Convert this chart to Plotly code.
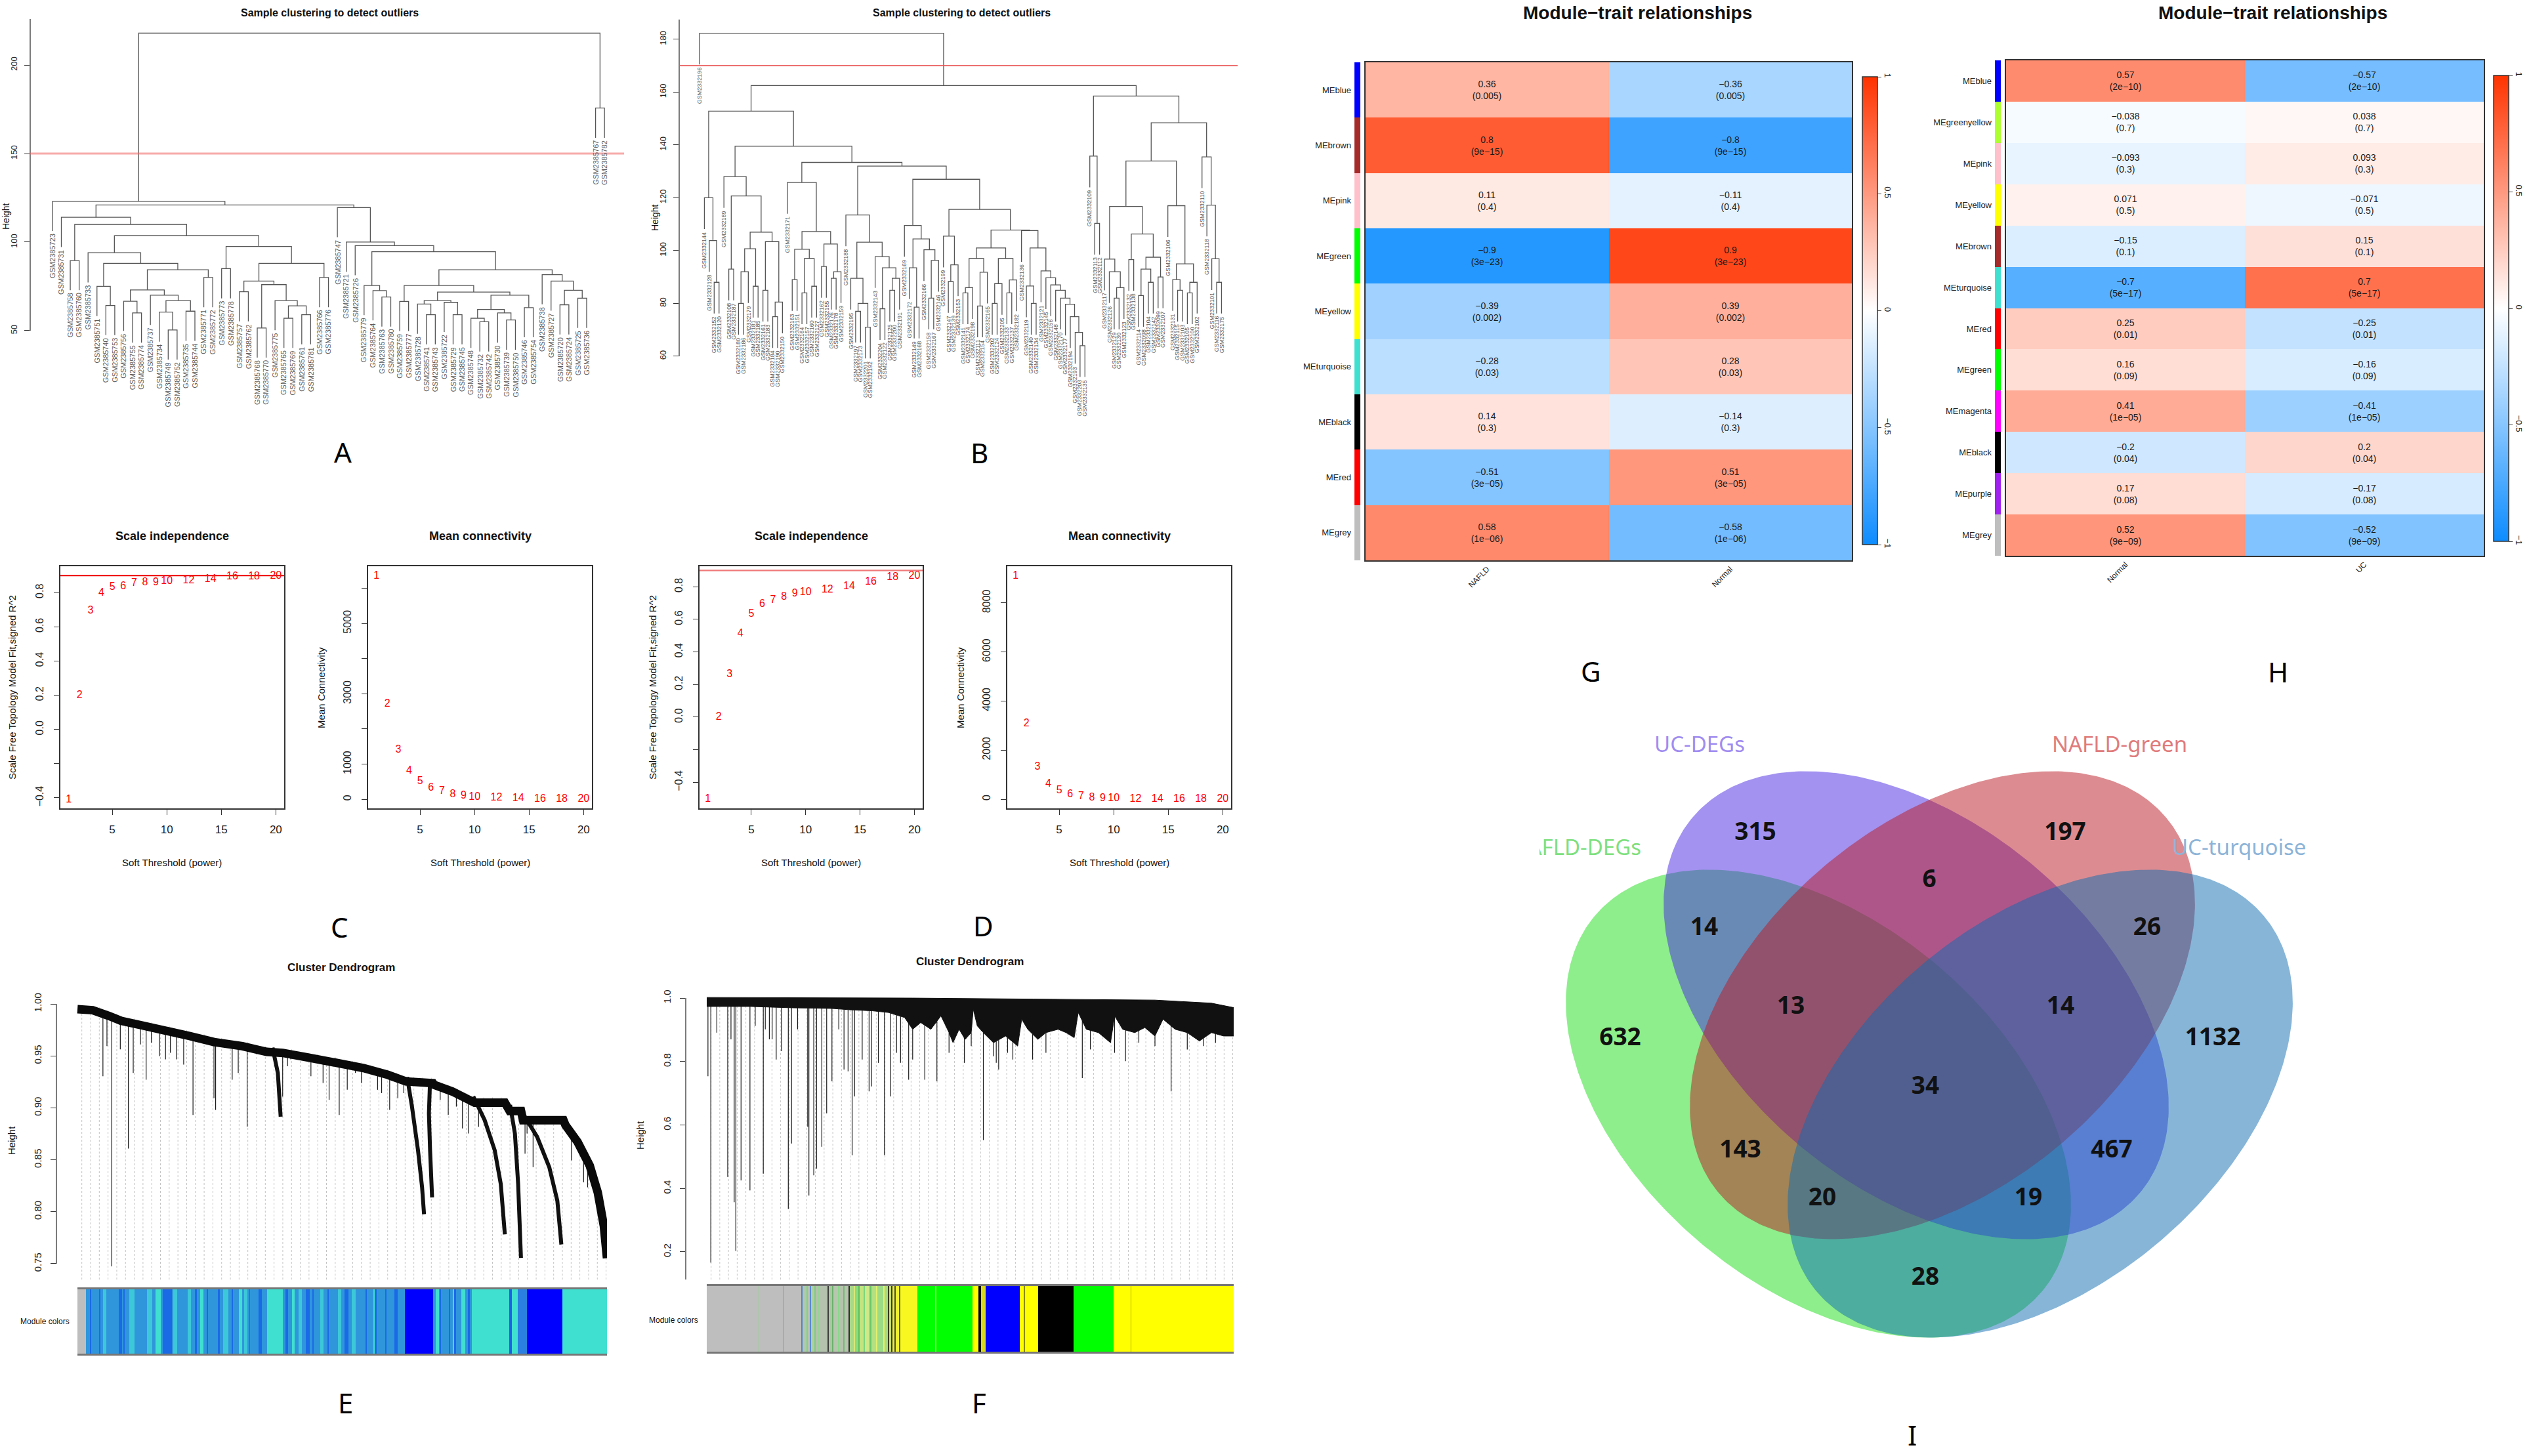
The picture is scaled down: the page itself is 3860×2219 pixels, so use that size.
import numpy as np
import plotly.graph_objects as go

W, H = 3860, 2219
SANS = "Liberation Sans, Arial, Helvetica, sans-serif"
LETTER = "Noto Sans, Open Sans, sans-serif"

# ---------------- A: sample tree, NAFLD set ----------------
A_PREFIX = "GSM2385"
A_LEAVES = ["723", "731", "758", "760", "733", "751", "740", "753", "756", "755",
            "774", "737", "734", "749", "752", "735", "744", "771", "772", "773",
            "778", "757", "762", "768", "770", "775", "765", "769", "761", "781",
            "766", "776", "747", "721", "726", "779", "764", "763", "780", "759",
            "777", "728", "741", "743", "722", "729", "745", "748", "732", "742",
            "730", "739", "750", "746", "754", "738", "727", "720", "724", "725",
            "736", "767", "782"]
# merge table: (node, left, right, height); ints are leaf positions
A_MERGES = [
    ("a1", 13, 14, 50.4), ("a2", 12, "a1", 60.5), ("a3", 15, 16, 61.0),
    ("a4", "a2", "a3", 67.0), ("a5", 11, "a4", 70.0), ("a6", 9, 10, 60.0),
    ("a7", 8, "a6", 66.6), ("a8", "a7", "a5", 73.0), ("a9", 17, 18, 80.0),
    ("a10", "a8", "a9", 84.4), ("a11", 6, 7, 64.2), ("a12", 5, "a11", 75.0),
    ("a13", "a12", "a10", 88.0), ("a14", 4, "a13", 94.0), ("a15", 26, 27, 57.0),
    ("a16", 28, 29, 59.0), ("a17", "a15", "a16", 64.0), ("a18", 25, "a17", 67.0),
    ("a19", 23, 24, 51.5), ("a20", "a19", "a18", 76.0), ("a21", 21, 22, 72.0),
    ("a22", "a21", "a20", 78.0), ("a23", 30, 31, 80.0), ("a24", "a22", "a23", 88.0),
    ("a25", 19, 20, 85.0), ("a26", "a25", "a24", 97.5), ("a27", "a14", "a26", 103.6),
    ("a28", 2, 3, 89.6), ("a29", "a28", "a27", 110.0), ("a30", 1, "a29", 114.0),
    ("b1", 57, 58, 64.6), ("b2", 59, 60, 68.3), ("b3", "b1", "b2", 72.8),
    ("b4", 56, "b3", 78.0), ("b5", 55, "b4", 81.6), ("b6", 51, 52, 56.0),
    ("b7", 50, "b6", 60.0), ("b8", 48, 49, 55.0), ("b9", 47, "b8", 57.0),
    ("b10", "b9", "b7", 62.0), ("b11", 53, 54, 63.0), ("b12", "b10", "b11", 70.0),
    ("b13", 45, 46, 59.0), ("b14", 44, "b13", 66.0), ("b15", 42, 43, 59.0),
    ("b16", 41, "b15", 65.0), ("b17", "b16", "b14", 67.0), ("b18", "b17", "b12", 71.8),
    ("b19", 39, 40, 66.5), ("b20", "b19", "b18", 75.5), ("b21", "b20", "b5", 84.4),
    ("b22", 37, 38, 69.0), ("b23", 36, "b22", 72.6), ("b24", 35, "b23", 75.5),
    ("b25", "b24", "b21", 94.6), ("b26", 34, "b25", 98.0), ("b27", 33, "b26", 100.0),
    ("b28", 32, "b27", 119.5), ("c1", "a30", "b28", 121.0), ("c2", 0, "c1", 123.0),
    ("c3", 61, 62, 175.7), ("c4", "c2", "c3", 218.0),
]
A_CUT = 150

# ---------------- B: sample tree, UC set ----------------
B_PREFIX = "GSM2332"
B_LEAVES = ["196", "144", "128", "152", "120", "189", "108", "187", "180", "186",
            "179", "181", "185", "161", "183", "184", "190", "150", "171", "163",
            "151", "164", "157", "160", "127", "162", "155", "176", "178", "159",
            "188", "195", "197", "173", "201", "192", "143", "204", "122", "125",
            "200", "191", "169", "172", "149", "168", "166", "158", "167", "146",
            "199", "147", "139", "153", "141", "174", "198", "111", "154", "165",
            "202", "124", "205", "133", "137", "182", "136", "119", "140", "134",
            "121", "145", "156", "148", "170", "177", "194", "193", "203", "135",
            "109", "113", "112", "117", "126", "129", "130", "123", "132", "138",
            "114", "098", "104", "142", "099", "107", "106", "131", "115", "103",
            "105", "100", "102", "110", "118", "101", "116", "175"]
B_MERGES = [
    ("g1", 3, 4, 88.0), ("g2", 2, "g1", 103.8), ("g3", 1, "g2", 120.0),
    ("h1", 6, 7, 93.0), ("h2", 8, 9, 80.0), ("h3", "h2", 10, 92.0),
    ("h4", 11, 12, 86.5), ("h5", "h3", "h4", 100.7), ("h6", 13, 14, 85.0),
    ("h7", 15, 16, 75.0), ("h8", "h7", 17, 80.5), ("h9", "h6", "h8", 103.4),
    ("h10", "h5", "h9", 107.0), ("h11", "h1", "h10", 120.7), ("h12", 5, "h11", 128.0),
    ("i1", 19, 20, 89.0), ("i2", 21, 22, 84.0), ("i3", 23, 24, 86.5),
    ("i4", "i2", "i3", 97.0), ("i5", "i1", "i4", 100.5), ("i6", 25, 26, 94.0),
    ("i7", 27, 28, 89.5), ("i8", "i7", 29, 92.0), ("i9", "i6", "i8", 102.5),
    ("i10", "i5", "i9", 107.2), ("i11", 18, "i10", 125.8),
    ("j1", 32, 33, 77.0), ("j2", 34, 35, 71.0), ("j3", "j1", "j2", 80.0),
    ("j4", 31, "j3", 89.5), ("j5", 37, 38, 78.0), ("j6", 39, 40, 85.0),
    ("j7", "j6", 41, 89.5), ("j8", "j5", "j7", 93.5), ("j9", 36, "j8", 97.7),
    ("j10", "j4", "j9", 103.2), ("j11", 30, "j10", 113.5),
    ("k1", 44, 45, 78.6), ("k2", 43, "k1", 93.5), ("k3", 47, 48, 82.0),
    ("k4", "k3", 49, 96.3), ("k5", 46, "k4", 100.3), ("k6", "k2", "k5", 104.4),
    ("k7", 42, "k6", 109.5),
    ("l1", 51, 52, 88.3), ("l2", "l1", 53, 94.6), ("l3", 50, "l2", 105.5),
    ("m1", 54, 55, 84.0), ("m2", "m1", 56, 86.0), ("m3", 57, 58, 79.0),
    ("m4", "m3", 59, 91.8), ("m5", "m2", "m4", 97.0), ("m6", 60, 61, 80.0),
    ("m7", "m6", 62, 87.5), ("m8", 63, 64, 84.0), ("m9", "m8", 65, 88.9),
    ("m10", "m7", "m9", 97.0), ("m11", "m5", "m10", 101.0),
    ("n1", 68, 69, 80.0), ("n2", 67, "n1", 86.6), ("n3", 78, 79, 64.0),
    ("n4", 77, "n3", 69.0), ("n5", 76, "n4", 75.0), ("n6", 75, "n5", 79.7),
    ("n7", 74, "n6", 82.0), ("n8", 73, "n7", 85.0), ("n9", 72, "n8", 87.0),
    ("n10", 71, "n9", 89.7), ("n11", 70, "n10", 92.3), ("n12", "n2", "n11", 101.0),
    ("n13", 66, "n12", 107.6),
    ("o1", "m11", "n13", 107.8), ("o2", "l3", "o1", 115.6), ("o3", "k7", "o2", 127.0),
    ("o4", "j11", "o3", 132.0), ("o5", "i11", "o4", 133.4), ("o6", "h12", "o5", 139.5),
    ("o7", "g3", "o6", 152.8),
    ("p1", 81, 82, 110.3), ("p2", 80, "p1", 135.8),
    ("q1", 85, 86, 82.0), ("q2", "q1", 87, 86.0), ("q3", 84, "q2", 92.0),
    ("q4", 83, "q3", 96.8), ("q5", 88, 89, 96.6), ("q6", 90, 91, 83.0),
    ("q7", 92, 93, 88.0), ("q8", "q6", "q7", 93.0), ("q9", 94, 95, 90.0),
    ("q10", "q8", "q9", 97.5), ("q11", "q5", "q10", 106.3), ("q12", "q4", "q11", 116.7),
    ("r1", 98, 99, 85.0), ("r2", 97, "r1", 89.0), ("r3", 100, 101, 84.0),
    ("r4", "r3", 102, 88.0), ("r5", "r2", "r4", 95.0), ("r6", 96, "r5", 117.0),
    ("r7", "q12", "r6", 133.9),
    ("s1", 106, 107, 88.0), ("s2", 105, "s1", 96.9), ("s3", 104, "s2", 117.2),
    ("s4", 103, "s3", 135.5),
    ("r8", "r7", "s4", 148.4), ("p3", "p2", "r8", 158.5),
    ("z1", "o7", "p3", 162.5), ("z2", 0, "z1", 182.3),
]
B_CUT = 170

# ---------------- C / D: soft threshold ----------------
POWERS = [1, 2, 3, 4, 5, 6, 7, 8, 9, 10, 12, 14, 16, 18, 20]
C_R2 = [-0.41, 0.20, 0.695, 0.796, 0.83, 0.834, 0.854, 0.857, 0.857, 0.865,
        0.868, 0.879, 0.891, 0.894, 0.898]
C_K = [6341, 2707, 1398, 797, 504, 325, 220, 138, 98, 65, 41, 24, 8, 0, 0]
D_R2 = [-0.504, 0.0, 0.263, 0.511, 0.633, 0.693, 0.716, 0.737, 0.756, 0.765,
        0.781, 0.80, 0.828, 0.856, 0.867]
D_K = [9083, 3086, 1304, 617, 349, 198, 116, 58, 35, 23, 5, 2, 1, 0, 0]
R2_CUT = 0.9

# ---------------- E: gene tree, NAFLD (position 0-1000 along the leaves) ----------------
E_ENV_POS = [0, 29, 59.5, 82.4, 120.5, 158.7, 212.1, 257.9, 311.3, 357.1, 387.6, 433.4,
             486.8, 540.2, 585.9, 620.3, 671.4, 673.7, 708.0, 746.2, 750.0, 807.2, 811.0,
             816.3, 837.7, 841.5, 917.8, 921.6, 944.5, 967.4, 982.6, 994.1, 1000]
E_ENV_H = [1.0, 0.999, 0.9935, 0.9887, 0.9845, 0.9806, 0.9741, 0.9683, 0.9644, 0.9589,
           0.9579, 0.9537, 0.9488, 0.9433, 0.9368, 0.9304, 0.9288, 0.9271, 0.9207, 0.9109,
           0.9100, 0.9100, 0.9077, 0.9019, 0.9019, 0.8931, 0.8931, 0.8883, 0.8721, 0.8494,
           0.8235, 0.7912, 0.7604]
E_BRANCHES = [
    ([622.5, 631.7, 643.1, 650.8, 654.5], [0.9297, 0.9012, 0.8591, 0.8235, 0.7976]),
    ([665.9, 663.7, 665.9, 669.7], [0.9271, 0.8948, 0.8591, 0.8138]),
    ([747.5, 768.9, 788.0, 799.4, 807.1], [0.9109, 0.8883, 0.8591, 0.8267, 0.7782]),
    ([817.0, 826.1, 832.2, 837.5], [0.9028, 0.8753, 0.8267, 0.7555]),
    ([842.9, 868.1, 891.0, 906.2, 913.8], [0.8931, 0.8721, 0.8429, 0.8106, 0.7685]),
    ([368.4, 378.4, 383.7], [0.9579, 0.9336, 0.8915]),
]
E_DROP_POS = [19.8, 48.1, 55.7, 64.8, 80.9, 96.1, 105.3, 119.0, 129.7, 139.6, 154.9, 166.3,
              175.4, 186.9, 200.6, 218.2, 234.9, 257.8, 260.9, 292.2, 303.6, 320.4, 341.7,
              387.5, 396.7, 402.8, 440.9, 452.3, 463.8, 475.2, 482.9, 494.3, 509.5, 524.8,
              536.3, 566.8, 574.4, 589.6, 604.9, 616.3, 685.0, 700.2, 715.5, 727.0, 738.4,
              757.5, 845.2, 849.0, 860.4, 932.9, 944.4, 955.8, 963.4, 978.7]
E_DROP_H = [0.9919, 0.9304, 0.9595, 0.7474, 0.9563, 0.8608, 0.9336, 0.9611, 0.9271, 0.9628,
            0.9498, 0.9466, 0.9530, 0.9466, 0.9417, 0.8931, 0.9660, 0.9093, 0.8980, 0.9271,
            0.9336, 0.8818, 0.9530, 0.9109, 0.9401, 0.9466, 0.9304, 0.9450, 0.9239, 0.9077,
            0.9401, 0.8931, 0.9174, 0.9336, 0.9239, 0.9174, 0.9142, 0.8980, 0.9093, 0.9142,
            0.9077, 0.8931, 0.9012, 0.8802, 0.8753, 0.8818, 0.8559, 0.8753, 0.8429, 0.8494,
            0.8620, 0.8284, 0.8235, 0.8106]
E_MIX, E_DARK, E_LIGHT = "#2F96DC", "#1A6AE6", "#3CC8D8"
E_MODULES = [
    (0, 16.4, "grey"), (16.4, 24.4, E_MIX), (24.4, 26, E_DARK), (26, 41.1, E_MIX),
    (41.1, 43, E_DARK), (43, 47.8, E_MIX), (47.8, 54.5, E_LIGHT), (54.5, 77.8, E_MIX),
    (77.8, 84.5, E_DARK), (84.5, 87.8, E_MIX), (87.8, 89.5, E_DARK), (89.5, 97.8, E_MIX),
    (97.8, 107.8, E_LIGHT), (107.8, 131.2, E_MIX), (131.2, 141.2, E_LIGHT), (141.2, 147.9, E_MIX),
    (147.9, 157.9, "turquoise"), (157.9, 161.2, E_MIX), (161.2, 177.9, E_DARK), (177.9, 181.2, E_MIX),
    (181.2, 187.9, E_LIGHT), (187.9, 207.9, E_MIX), (207.9, 214.6, E_LIGHT), (214.6, 221.3, E_MIX),
    (221.3, 226.0, E_DARK), (226, 231.3, E_MIX), (231.3, 237.9, "turquoise"), (237.9, 244.6, E_MIX),
    (244.6, 246.5, E_DARK), (246.5, 264.6, E_MIX), (264.6, 269.3, E_DARK), (269.3, 274.6, E_MIX),
    (274.6, 284.7, E_LIGHT), (284.7, 291.3, E_MIX), (291.3, 293.5, E_DARK), (293.5, 304.7, E_MIX),
    (304.7, 311.4, "turquoise"), (311.4, 314.7, E_MIX), (314.7, 321.4, E_LIGHT), (321.4, 324.7, E_MIX),
    (324.7, 326.5, E_DARK), (326.5, 341.4, E_MIX), (341.4, 348.1, E_DARK), (348.1, 358.1, E_MIX),
    (358.1, 388.1, "turquoise"), (388.1, 392.8, E_MIX), (392.8, 398.1, E_DARK), (398.1, 404.8, E_MIX),
    (404.8, 410.1, "turquoise"), (410.1, 418.1, E_MIX), (418.1, 423.5, E_LIGHT), (423.5, 431.5, E_MIX),
    (431.5, 438.1, E_DARK), (438.1, 444.8, E_MIX), (444.8, 446.5, E_DARK), (446.5, 458.2, E_MIX),
    (458.2, 464.9, E_LIGHT), (464.9, 471.5, E_MIX), (471.5, 474.9, E_DARK), (474.9, 491.6, E_MIX),
    (491.6, 498.2, E_LIGHT), (498.2, 504.9, E_MIX), (504.9, 511.6, E_DARK), (511.6, 518.3, E_MIX),
    (518.3, 524.9, E_LIGHT), (524.9, 544.9, E_MIX), (544.9, 546.8, E_DARK), (546.8, 558.3, E_MIX),
    (558.3, 561.6, "turquoise"), (561.6, 565, E_DARK), (565, 581.6, E_MIX), (581.6, 583.5, E_DARK),
    (583.5, 598.3, E_MIX), (598.3, 605, E_DARK), (605, 618.3, E_MIX), (618.3, 671.7, "blue"),
    (671.7, 677, E_MIX), (677, 683.7, "turquoise"), (683.7, 685, E_MIX), (685, 687, E_DARK),
    (687, 701.7, E_MIX), (701.7, 703.5, E_DARK), (703.5, 708.4, E_MIX), (708.4, 711.7, "turquoise"),
    (711.7, 715.1, E_DARK), (715.1, 725.1, E_MIX), (725.1, 731.8, "turquoise"), (731.8, 738.5, E_MIX),
    (738.5, 740.5, E_DARK), (740.5, 745.2, E_MIX), (745.2, 815.3, "turquoise"), (815.3, 820, "#2060E8"),
    (820, 832, "turquoise"), (832, 848.7, "#2A7FE0"), (848.7, 915.4, "blue"), (915.4, 1000, "turquoise"),
]

# ---------------- F: gene tree, UC ----------------
F_TOP_POS = [0, 390.8, 620.7, 850.6, 957.9, 1000]
F_TOP_H = [1.002, 1.0, 0.9968, 0.9937, 0.984, 0.970]
F_BOT_POS = [0, 84.3, 160.9, 237.6, 272.0, 314.2, 344.8, 375.5, 390.8, 406.1, 425.3, 444.5,
             459.8, 467.4, 478.9, 490.4, 501.9, 505.8, 513.4, 524.9, 544.1, 567.1, 590.1,
             597.7, 609.2, 628.4, 643.7, 666.7, 682.0, 697.3, 705.0, 720.3, 743.3, 766.3,
             774.0, 789.3, 812.3, 831.4, 850.6, 865.9, 888.9, 911.9, 934.9, 957.9, 980.9, 1000]
F_BOT_H = [0.9735, 0.9735, 0.9693, 0.9672, 0.9630, 0.9598, 0.9545, 0.9386, 0.9016, 0.9228,
           0.9016, 0.9439, 0.8910, 0.8593, 0.9016, 0.8698, 0.8910, 0.9651, 0.9122, 0.8910,
           0.8593, 0.8804, 0.8487, 0.9333, 0.9016, 0.8698, 0.8910, 0.9016, 0.8910, 0.8751,
           0.9545, 0.9016, 0.8910, 0.8593, 0.9439, 0.9016, 0.8910, 0.9069, 0.8804, 0.9333,
           0.9016, 0.8910, 0.8646, 0.8910, 0.8804, 0.8804]
F_DROP_POS = [2.3, 7.7, 19.2, 39.8, 46.0, 52.1, 55.2, 65.1, 82.0, 92.0, 107.3, 111.1, 118.8,
              124.1, 131.8, 141.8, 154.8, 160.9, 172.4, 191.6, 193.9, 203.1, 208.4, 218.4,
              227.6, 237.6, 250.6, 260.5, 268.2, 275.9, 280.5, 295.0, 308.1, 312.7, 325.7,
              337.2, 348.7, 360.2, 367.8, 383.2, 390.8, 413.8, 436.8, 459.8, 488.9, 501.9,
              524.9, 544.1, 549.4, 554.0, 570.9, 580.9, 618.4, 643.7, 712.7, 728.0, 774.0,
              794.7, 820.0, 850.6, 881.2, 911.9, 942.5, 965.5]
F_DROP_H = [0.7534, 0.1661, 0.8910, 0.4360, 0.8698, 0.3566, 0.2032, 0.4254, 0.3937, 0.9122,
            0.4466, 0.9016, 0.8698, 0.8698, 0.8063, 0.8328, 0.3354, 0.5418, 0.9016, 0.5947,
            0.3778, 0.4413, 0.4624, 0.5312, 0.6370, 0.7376, 0.9016, 0.7746, 0.7693, 0.5048,
            0.6899, 0.8063, 0.7058, 0.7217, 0.7958, 0.5048, 0.6899, 0.8275, 0.7958, 0.7429,
            0.8063, 0.7429, 0.7376, 0.8275, 0.7958, 0.8487, 0.5524, 0.8169, 0.7958, 0.7746,
            0.8275, 0.8063, 0.8063, 0.8275, 0.7481, 0.8381, 0.8275, 0.8011, 0.8593, 0.8487,
            0.7058, 0.8381, 0.8487, 0.8593]
F_MODULES = [
    (0, 97.8, "grey"), (97.8, 98.6, "#A8C8A8"), (98.6, 146.5, "grey"), (146.5, 147.3, "#8C8CD8"),
    (147.3, 180, "grey"), (180, 181.5, "#5A7FC8"), (181.5, 190, "#B0C8B0"), (190, 192, "#7FD67F"),
    (192, 196, "#B8C4B0"), (196, 197.5, "#5A8AD0"), (197.5, 205, "#ACD0A0"), (205, 207, "#84C884"),
    (207, 212, "#B8C0B0"), (212, 214, "#90D890"), (214, 229.5, "#B4C2AE"), (229.5, 231.5, "#3C3C3C"),
    (231.5, 238, "#A8C8A0"), (238, 240, "#6CB06C"), (240, 250, "#B8C6B0"), (250, 252, "#8CD88C"),
    (252, 260, "#B4C4AC"), (260, 262, "#78B878"), (262, 270, "#B8C4AE"), (270, 272, "#2E2E2E"),
    (272, 279, "#A8D888"), (279, 281, "#D8E878"), (281, 288, "#8CDC7C"), (288, 290, "#5EC05E"),
    (290, 298, "#C4E480"), (298, 300, "#7CD67C"), (300, 310, "#D0E888"), (310, 312, "#6AC86A"),
    (312, 322, "#B4E084"), (322, 324, "#E4F070"), (324, 336, "#9CDC84"), (336, 338, "#E8F068"),
    (338, 344, "#A8DC80"), (344, 346.5, "#3A3A20"), (346.5, 351, "#C8E060"), (351, 352.8, "#383820"),
    (352.8, 357, "#E8F040"), (357, 358.6, "#505020"), (358.6, 366, "#F0F030"), (366, 367.8, "#606020"),
    (367.8, 399.9, "#F8F820"), (399.9, 434, "green"), (434, 436, "#7CFF3C"), (436, 503.9, "green"),
    (503.9, 515.3, "yellow"), (515.3, 521, "black"), (521, 528.7, "#D8D820"), (528.7, 594.4, "blue"),
    (594.4, 602, "yellow"), (602, 603.5, "#8A8A00"), (603.5, 629.3, "yellow"), (629.3, 696.3, "black"),
    (696.3, 772.1, "green"), (772.1, 804.5, "yellow"), (804.5, 805.7, "#B0B000"), (805.7, 1000, "yellow"),
]

# ---------------- G / H: module-trait heatmaps ----------------
G_MODULES = ["MEblue", "MEbrown", "MEpink", "MEgreen", "MEyellow", "MEturquoise",
             "MEblack", "MEred", "MEgrey"]
G_TRAITS = ["NAFLD", "Normal"]
G_COR_NAFLD = [0.36, 0.8, 0.11, -0.9, -0.39, -0.28, 0.14, -0.51, 0.58]
G_COR_NORMAL = [-0.36, -0.8, -0.11, 0.9, 0.39, 0.28, -0.14, 0.51, -0.58]
G_P = ["0.005", "9e-15", "0.4", "3e-23", "0.002", "0.03", "0.3", "3e-05", "1e-06"]

H_MODULES = ["MEblue", "MEgreenyellow", "MEpink", "MEyellow", "MEbrown", "MEturquoise",
             "MEred", "MEgreen", "MEmagenta", "MEblack", "MEpurple", "MEgrey"]
H_TRAITS = ["Normal", "UC"]
H_COR_NORMAL = [0.57, -0.038, -0.093, 0.071, -0.15, -0.7, 0.25, 0.16, 0.41, -0.2, 0.17, 0.52]
H_COR_UC = [-0.57, 0.038, 0.093, -0.071, 0.15, 0.7, -0.25, -0.16, -0.41, 0.2, -0.17, -0.52]
H_P = ["2e-10", "0.7", "0.3", "0.5", "0.1", "5e-17", "0.01", "0.09", "1e-05", "0.04",
       "0.08", "9e-09"]

# ---------------- I: Venn ----------------
VENN_SETS = ["NAFLD-DEGs", "UC-DEGs", "NAFLD-green", "UC-turquoise"]
VENN_REGIONS = ["1000", "0100", "0010", "0001", "1100", "0110", "0011", "1110", "0111",
                "1111", "1010", "0101", "1011", "1101", "1001"]
VENN_COUNTS = [632, 315, 197, 1132, 14, 6, 26, 13, 14, 34, 143, 467, 20, 19, 28]

# ---------------- styling ----------------
R_COL = {"grey": "#BEBEBE", "blue": "#0000FF", "turquoise": "#40E0D0", "green": "#00FF00",
         "yellow": "#FFFF00", "black": "#000000", "brown": "#A52A2A", "pink": "#FFC0CB",
         "red": "#FF0000", "greenyellow": "#ADFF2F", "magenta": "#FF00FF", "purple": "#A020F0"}
WGCNA_SCALE = [[0, "rgb(13,140,255)"], [0.5, "rgb(255,255,255)"], [1, "rgb(255,51,0)"]]

VENN_FILL = ["rgba(27,221,23,0.5)", "rgba(71,37,225,0.5)", "rgba(185,25,35,0.5)",
             "rgba(13,107,177,0.5)"]
VENN_NAME_COL = ["#7EE07E", "#A08CF0", "#E07C7C", "#8CB4D8"]
VENN_NAME_XY = [(-439, -365, "middle left"), (-350, -522, "middle center"),
                (290, -522, "middle center"), (370, -365, "middle right")]
VENN_CENTRES = [(-169, 22), (-20, -128), (20, -128), (169, 22)]
VENN_TILT = [40, 40, -40, -40]
VENN_AX = (445, 278)
VENN_TEXT_XY = {"1000": (-471, -76), "0100": (-265, -389), "0010": (207, -389),
                "0001": (432, -76), "1100": (-343, -244), "0110": (0, -317),
                "0011": (332, -244), "1110": (-211, -124), "0111": (200, -124),
                "1111": (-6, -2), "1010": (-288, 95), "0101": (278, 95),
                "1011": (-163, 168), "1101": (151, 168), "1001": (-6, 289)}


def xdom(a, b):
    return [a / W, b / W]


def ydom(top, bottom):
    return [1 - bottom / H, 1 - top / H]


def refs(n):
    return ("x", "y") if n == 1 else (f"x{n}", f"y{n}")


def keys(n):
    return ("xaxis", "yaxis") if n == 1 else (f"xaxis{n}", f"yaxis{n}")


def minus(s):
    return s.replace("-", "\u2212")


fig = go.Figure()
layout = dict(width=W, height=H, margin=dict(l=0, r=0, t=0, b=0), paper_bgcolor="white",
              plot_bgcolor="rgba(0,0,0,0)", showlegend=False, bargap=0, hovermode=False,
              font=dict(family=SANS, color="#222"))
annotations, shapes = [], []


def set_axes(n, xd, yd, xkw=None, ykw=None):
    xk, yk = keys(n)
    xr, yr = refs(n)
    xa = dict(domain=xd, anchor=yr, showgrid=False, zeroline=False, visible=False)
    ya = dict(domain=yd, anchor=xr, showgrid=False, zeroline=False, visible=False)
    xa.update(xkw or {})
    ya.update(ykw or {})
    layout[xk] = xa
    layout[yk] = ya


def text(t, xpx, ypx, size, bold=False, angle=0, color="#111", family=SANS, xanchor="center",
         yanchor="middle"):
    annotations.append(dict(text=f"<b>{t}</b>" if bold else t, x=xpx / W, y=1 - ypx / H,
                            xref="paper", yref="paper", showarrow=False, textangle=angle,
                            xanchor=xanchor, yanchor=yanchor,
                            font=dict(size=size, family=family, color=color)))


def y_ticks(size, standoff=6, **extra):
    d = dict(visible=True, ticks="outside", ticklen=8, tickwidth=1.3, tickcolor="#333",
             tickangle=-90, showline=False, tickfont=dict(size=size, family=SANS, color="#222"),
             ticklabelstandoff=standoff)
    d.update(extra)
    return d


def dendro(merges):
    heights = [m[3] for m in merges]
    hang = 0.1 * (max(heights) - min(heights))
    nodes, xs, ys, ends = {}, [], [], {}

    def child(ref, h):
        if isinstance(ref, str):
            return nodes[ref]
        ends[ref] = h - hang
        return ref, h - hang

    for name, left, right, h in merges:
        xl, yl = child(left, h)
        xr, yr = child(right, h)
        xs += [xl, xl, xr, xr, None]
        ys += [yl, h, h, yr, None]
        nodes[name] = ((xl + xr) / 2, h)
    return xs, ys, ends


def sample_tree(n, merges, leaves, prefix, cut, xpx, ypx, xr, yr, ticks, line_top, cut_style,
                label_size):
    set_axes(n, xdom(*xpx), ydom(*ypx), dict(range=xr),
             y_ticks(13, range=yr, tickvals=ticks))
    xref, yref = refs(n)
    xs, ys, ends = dendro(merges)
    fig.add_trace(go.Scatter(x=xs, y=ys, mode="lines", line=dict(color="#555", width=1.3),
                             xaxis=xref, yaxis=yref, hoverinfo="skip"))
    for i, lab in enumerate(leaves):
        annotations.append(dict(text=prefix + lab, x=i, y=ends[i], xref=xref, yref=yref,
                                showarrow=False, textangle=-90, xanchor="center", yanchor="top",
                                yshift=-2, font=dict(size=label_size, family=SANS, color="#5c5c5c")))
    shapes.append(dict(type="line", xref=f"{xref} domain", yref=yref, x0=0, x1=0,
                       y0=ticks[0], y1=line_top, line=dict(color="#333", width=1.3)))
    shapes.append(dict(type="line", xref=f"{xref} domain", yref=yref, x0=0, x1=1,
                       y0=cut, y1=cut, line=cut_style))


# ---- A and B ----
sample_tree(1, A_MERGES, A_LEAVES, A_PREFIX, A_CUT, (46, 951), (10, 600), [-2.5, 64.2],
            [14.4, 233], [50, 100, 150, 200], 226, dict(color="rgba(240,100,100,0.55)", width=3),
            11)
sample_tree(2, B_MERGES, B_LEAVES, B_PREFIX, B_CUT, (1035, 1886), (10, 650), [-4.17, 110.3],
            [33.4, 192.4], [60, 80, 100, 120, 140, 160, 180], 187.5,
            dict(color="#E85050", width=1.6), 9)
for xc, yh in [(502, 19), (1465, 19)]:
    text("Sample clustering to detect outliers", xc, yh, 16, bold=True)
text("Height", 9, 330, 14, angle=-90)
text("Height", 998, 332, 14, angle=-90)


# ---- C and D ----
def soft_panel(n, xpx, values, yr, ytv, ytt, cut=None, cut_col="red"):
    xref, yref = refs(n)
    set_axes(n, xdom(*xpx), ydom(863, 1232),
             dict(visible=True, range=[0.24, 20.76], tickvals=[5, 10, 15, 20], ticks="outside",
                  ticklen=8, tickwidth=1.3, tickcolor="#333", showline=True, mirror=True,
                  linecolor="#333", linewidth=1.5, ticklabelstandoff=8,
                  tickfont=dict(size=17, family=SANS, color="#222")),
             y_ticks(16, 10, range=yr, tickvals=ytv, ticktext=ytt, showline=True, mirror=True,
                     linecolor="#333", linewidth=1.5))
    if cut is not None:
        shapes.append(dict(type="line", xref=f"{xref} domain", yref=yref, x0=0, x1=1, y0=cut,
                           y1=cut, line=dict(color=cut_col, width=2.2)))
    fig.add_trace(go.Scatter(x=POWERS, y=values, mode="text", text=[str(p) for p in POWERS],
                             textfont=dict(color="#FF0000", size=16, family=SANS),
                             cliponaxis=False, xaxis=xref, yaxis=yref))


r2_ticks = [-0.4, -0.2, 0.0, 0.2, 0.4, 0.6, 0.8]
r2_text = ["\u22120.4", "", "0.0", "0.2", "0.4", "0.6", "0.8"]
soft_panel(3, (92, 433), C_R2, [-0.4615, 0.954], r2_ticks, r2_text, R2_CUT, "#F01818")
soft_panel(4, (561, 902), C_K, [-260, 6626], [0, 1000, 2000, 3000, 4000, 5000, 6000],
           ["0", "1000", "", "3000", "", "5000", ""])
soft_panel(5, (1066, 1406), D_R2, [-0.56, 0.926], r2_ticks, r2_text, R2_CUT, "#F07878")
soft_panel(6, (1535, 1876), D_K, [-373, 9490], [0, 2000, 4000, 6000, 8000],
           ["0", "2000", "4000", "6000", "8000"])
for xc, ttl in [(262, "Scale independence"), (732, "Mean connectivity"),
                (1236, "Scale independence"), (1706, "Mean connectivity")]:
    text(ttl, xc, 817, 18, bold=True)
    text("Soft Threshold (power)", xc, 1314, 15)
text("Scale Free Topology Model Fit,signed R^2", 18, 1048, 15, angle=-90)
text("Mean Connectivity", 489, 1048, 15, angle=-90)
text("Scale Free Topology Model Fit,signed R^2", 994, 1048, 15, angle=-90)
text("Mean Connectivity", 1463, 1048, 15, angle=-90)


# ---- E and F: gene dendrograms with module colours ----
def guides(xref, yref, top_pos, top_h, bottom, step):
    gx, gy = [], []
    for p in np.arange(step / 2, 1000, step):
        gx += [p, p, None]
        gy += [bottom, float(np.interp(p, top_pos, top_h)), None]
    fig.add_trace(go.Scatter(x=gx, y=gy, mode="lines", xaxis=xref, yaxis=yref,
                             line=dict(color="#C4C4C4", width=1, dash="dot"), hoverinfo="skip"))


def drops(xref, yref, pos, low, top_pos, top_h):
    dx, dy = [], []
    for p, lo in zip(pos, low):
        dx += [p, p, None]
        dy += [float(np.interp(p, top_pos, top_h)), lo, None]
    fig.add_trace(go.Scatter(x=dx, y=dy, mode="lines", xaxis=xref, yaxis=yref,
                             line=dict(color="#1a1a1a", width=1.2), hoverinfo="skip"))


def module_bar(n, xpx, ypx, segs):
    xref, yref = refs(n)
    set_axes(n, xdom(*xpx), ydom(*ypx),
             dict(visible=True, range=[0, 1000], showline=True, mirror=True, linecolor="#777",
                  linewidth=2.5, ticks="", showticklabels=False),
             dict(range=[0, 1]))
    start = np.array([s[0] for s in segs])
    end = np.array([s[1] for s in segs])
    cols = [R_COL.get(s[2], s[2]) for s in segs]
    fig.add_trace(go.Bar(x=(start + end) / 2, width=end - start, y=[1] * len(segs),
                         marker=dict(color=cols, line=dict(width=0)), xaxis=xref, yaxis=yref))


# E
set_axes(7, xdom(86, 925), ydom(1490, 1950), dict(range=[-39.7, 1000]),
         y_ticks(15, 8, range=[0.7348, 1.0253], tickvals=[0.75, 0.8, 0.85, 0.9, 0.95, 1.0],
                 ticktext=["0.75", "0.80", "0.85", "0.90", "0.95", "1.00"]))
shapes.append(dict(type="line", xref="x7 domain", yref="y7", x0=0, x1=0, y0=0.75, y1=1.0,
                   line=dict(color="#333", width=1.3)))
guides("x7", "y7", E_ENV_POS, E_ENV_H, 0.7348, 16.5)
drops("x7", "y7", E_DROP_POS, E_DROP_H, E_ENV_POS, np.array(E_ENV_H) - 0.005)
for bp, bh in E_BRANCHES:
    fig.add_trace(go.Scatter(x=bp, y=bh, mode="lines", xaxis="x7", yaxis="y7",
                             line=dict(color="#111", width=6), hoverinfo="skip"))
fig.add_trace(go.Scatter(x=E_ENV_POS, y=np.array(E_ENV_H) - 0.005, mode="lines", xaxis="x7",
                         yaxis="y7", line=dict(color="#0a0a0a", width=13), hoverinfo="skip"))
module_bar(8, (118, 925), (1965, 2063), E_MODULES)
text("Cluster Dendrogram", 520, 1474, 17, bold=True)
text("Height", 17, 1738, 15, angle=-90)
text("Module colors", 68, 2014, 12)

# F
set_axes(9, xdom(1045, 1880), ydom(1480, 1950), dict(range=[-39.85, 1000]),
         y_ticks(15, 8, range=[0.113, 1.085], tickvals=[0.2, 0.4, 0.6, 0.8, 1.0],
                 ticktext=["0.2", "0.4", "0.6", "0.8", "1.0"]))
shapes.append(dict(type="line", xref="x9 domain", yref="y9", x0=0, x1=0, y0=0.11, y1=1.0,
                   line=dict(color="#333", width=1.3)))
guides("x9", "y9", F_BOT_POS, F_BOT_H, 0.113, 16.5)
drops("x9", "y9", F_DROP_POS, F_DROP_H, F_BOT_POS, F_BOT_H)
fig.add_trace(go.Scatter(x=F_TOP_POS + F_BOT_POS[::-1], y=F_TOP_H + F_BOT_H[::-1], mode="lines",
                         fill="toself", fillcolor="#111", line=dict(color="#111", width=1),
                         xaxis="x9", yaxis="y9", hoverinfo="skip"))
module_bar(10, (1077, 1880), (1960, 2060), F_MODULES)
text("Cluster Dendrogram", 1478, 1465, 17, bold=True)
text("Height", 975, 1730, 15, angle=-90)
text("Module colors", 1026, 2012, 12)


# ---- G and H: module-trait heatmaps ----
def trait_heatmap(n, modules, traits, col1, col2, pvals, xpx, ypx, strip_px, cb_x, cb_px):
    xref, yref = refs(n)
    sref_x, sref_y = refs(n + 1)
    z = [[a, b] for a, b in zip(col1, col2)]
    txt = [[minus(f"{a}<br>({p})"), minus(f"{b}<br>({p})")] for a, b, p in zip(col1, col2, pvals)]
    set_axes(n, xdom(*xpx), ydom(*ypx),
             dict(visible=True, showline=True, mirror=True, linecolor="#333", linewidth=1.6,
                  ticks="", tickangle=-45, tickfont=dict(size=12, family=SANS, color="#222")),
             dict(visible=True, autorange="reversed", showline=True, mirror=True,
                  linecolor="#333", linewidth=1.6, ticks="", showticklabels=False))
    fig.add_trace(go.Heatmap(
        z=z, x=traits, y=modules, text=txt, texttemplate="%{text}",
        textfont=dict(size=14, family=SANS, color="#1a1a1a"), colorscale=WGCNA_SCALE,
        zmin=-1, zmax=1, xaxis=xref, yaxis=yref,
        colorbar=dict(x=cb_x / W, xanchor="left", xpad=0, ypad=0, y=1 - (cb_px[0] + cb_px[1]) / 2 / H,
                      yanchor="middle", len=(cb_px[1] - cb_px[0]) / H, lenmode="fraction",
                      thickness=23, thicknessmode="pixels", outlinecolor="#333", outlinewidth=1.5,
                      tickvals=[-1, -0.5, 0, 0.5, 1],
                      ticktext=["\u22121", "\u22120.5", "0", "0.5", "1"], ticks="outside",
                      ticklen=6, tickangle=90, tickfont=dict(size=13, family=SANS, color="#222"))))
    set_axes(n + 1, xdom(*strip_px), ydom(*ypx), dict(range=[0, 1]),
             dict(visible=True, autorange="reversed", ticks="", showline=False,
                  ticklabelstandoff=4, tickfont=dict(size=13, family=SANS, color="#222")))
    fig.add_trace(go.Bar(y=modules, x=[1] * len(modules), orientation="h",
                         marker=dict(color=[R_COL[m[2:]] for m in modules], line=dict(width=0)),
                         xaxis=sref_x, yaxis=sref_y))


trait_heatmap(11, G_MODULES, G_TRAITS, G_COR_NAFLD, G_COR_NORMAL, G_P, (2081, 2822), (95, 854),
              (2064, 2073), 2838, (117, 830))
trait_heatmap(13, H_MODULES, H_TRAITS, H_COR_NORMAL, H_COR_UC, H_P, (3057, 3785), (92, 847),
              (3040, 3049), 3800, (115, 825))
text("Module\u2212trait relationships", 2495, 19, 28, bold=True)
text("Module\u2212trait relationships", 3463, 19, 28, bold=True)

# ---- I: Venn diagram (its left edge crops the first set name, as in the source panel) ----
set_axes(15, xdom(2346, 3600), ydom(1080, 2180), dict(range=[-594, 660]), dict(range=[520, -580]))
t = np.linspace(0, 2 * np.pi, 361)
a_ax, b_ax = VENN_AX
for (cx, cy), tilt, col in zip(VENN_CENTRES, VENN_TILT, VENN_FILL):
    th = np.radians(tilt)
    ex = cx + a_ax * np.cos(th) * np.cos(t) - b_ax * np.sin(th) * np.sin(t)
    ey = cy + a_ax * np.sin(th) * np.cos(t) + b_ax * np.cos(th) * np.sin(t)
    fig.add_trace(go.Scatter(x=ex, y=ey, mode="lines", fill="toself", fillcolor=col,
                             line=dict(width=0), xaxis="x15", yaxis="y15", hoverinfo="skip"))
fig.add_trace(go.Scatter(x=[VENN_TEXT_XY[r][0] for r in VENN_REGIONS],
                         y=[VENN_TEXT_XY[r][1] for r in VENN_REGIONS], mode="text",
                         text=[f"<b>{c}</b>" for c in VENN_COUNTS],
                         textfont=dict(size=37, family=LETTER, color="#111"),
                         xaxis="x15", yaxis="y15", cliponaxis=False))
fig.add_trace(go.Scatter(x=[p[0] for p in VENN_NAME_XY], y=[p[1] for p in VENN_NAME_XY],
                         mode="text", text=VENN_SETS, textposition=[p[2] for p in VENN_NAME_XY],
                         textfont=dict(size=33, family=LETTER, color=VENN_NAME_COL),
                         xaxis="x15", yaxis="y15", cliponaxis=True))

# ---- panel letters ----
for letter, (lx, ly) in zip("ABCDEFGHI", [(522, 688), (1492, 690), (517, 1412), (1498, 1410),
                                          (526, 2137), (1492, 2137), (2424, 1022), (3471, 1024),
                                          (2914, 2186)]):
    text(letter, lx, ly, 42, family=LETTER, color="#000")

layout["annotations"] = annotations
layout["shapes"] = shapes
fig.update_layout(**layout)
fig.write_html("out.html", config={"displayModeBar": False},
               post_script="document.body.style.margin='0';")
